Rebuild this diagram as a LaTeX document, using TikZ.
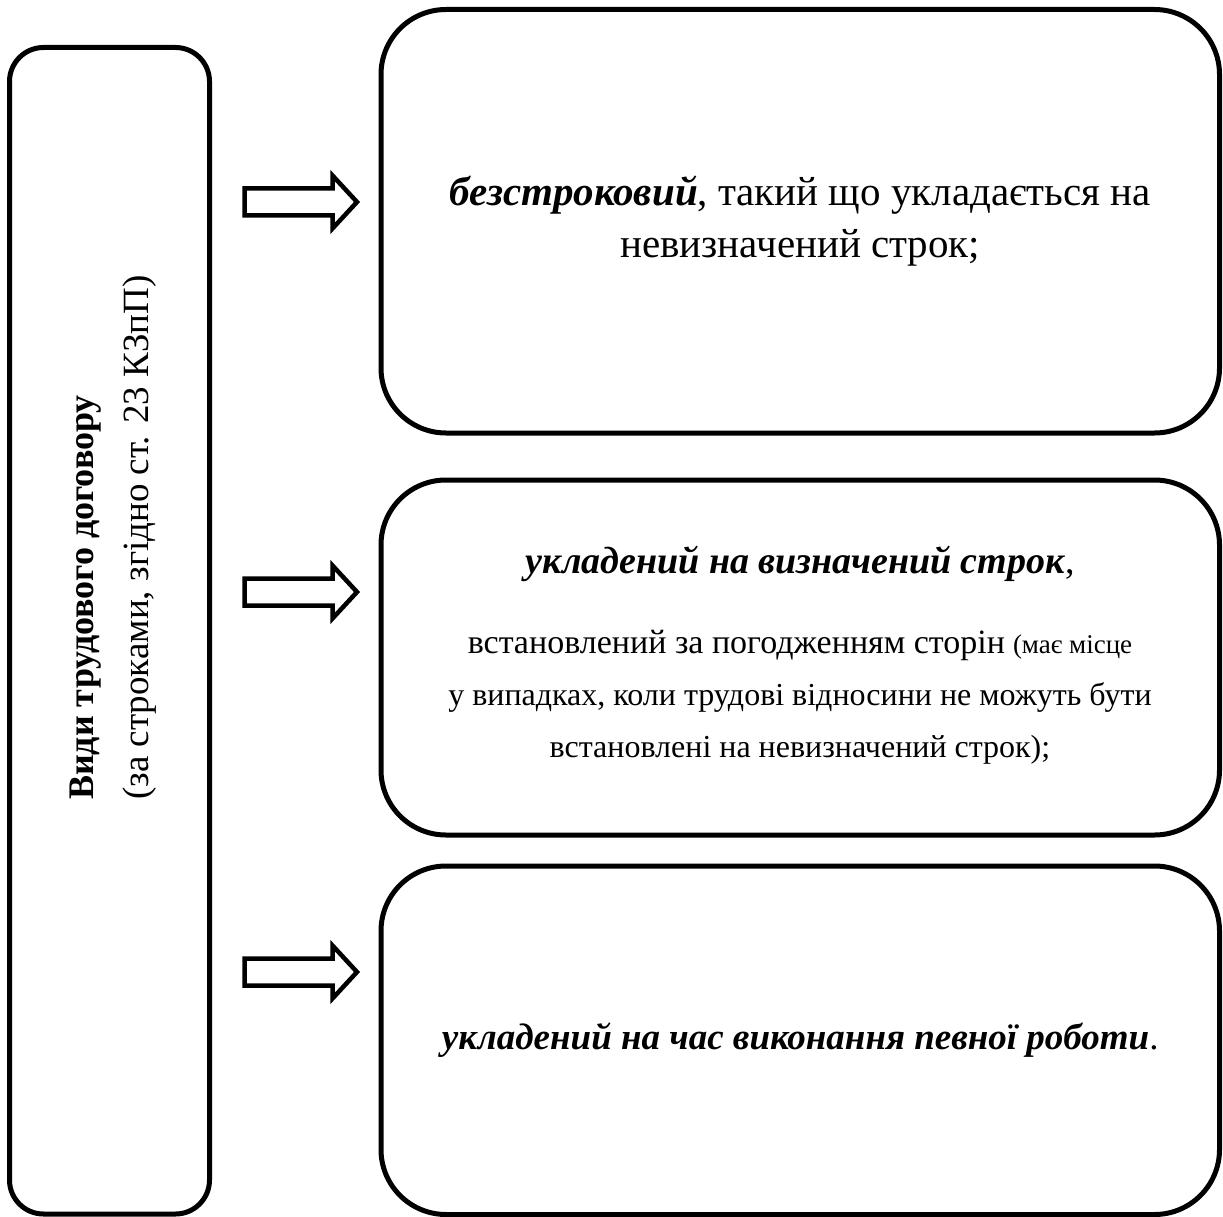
\documentclass[tikz,border=0pt]{standalone}
\usepackage{fontspec}
\setmainfont{Liberation Serif}
\begin{document}
\begin{tikzpicture}[x=1pt,y=-1pt,
  box/.style={draw, line width=5pt, rounded corners=#1, inner sep=0pt},
  box/.default=65pt,
  fatarrow/.style={draw, line width=4.5pt, miter limit=10, line join=miter},
  bigtxt/.style={font=\fontsize{41}{52}\selectfont, align=center},
  midtxt/.style={font=\fontsize{32}{52}\selectfont, align=center},
  sidetxt/.style={font=\fontsize{37}{55}\selectfont, align=left, rotate=90, inner sep=0pt}]
\useasboundingbox (0,0) rectangle (1223,1217);
% left box
\node[box=34pt, minimum width=200pt, minimum height=1166.5pt] (left) at (109.5,630.75) {};
\node[sidetxt, anchor=west] (lefttxt) at (113,800) {{\fontsize{36}{55}\selectfont\textbf{Види трудового договору}}\\(за строками, згідно ст. 23 КЗпП)};
% right boxes
\node[box, minimum width=838.5pt, minimum height=423.5pt] (b1) at (800.25,221.25) {};
\node[box, minimum width=838.5pt, minimum height=355pt] (b2) at (800.25,657.5) {};
\node[box, minimum width=838.5pt, minimum height=348.5pt] (b3) at (800.25,1040.25) {};
\node[bigtxt] (t1) at (b1.center) {\textbf{\textit{безстроковий}}, такий що укладається на\\невизначений строк;};
\node[midtxt] (t2) at (800,655) {{\fontsize{38}{52}\selectfont\textbf{\textit{укладений на визначений строк}},}\\[28pt]
{\fontsize{34}{52}\selectfont встановлений за погодженням сторін} {\fontsize{27}{52}\selectfont(має місце}\\
у випадках, коли трудові відносини не можуть бути\\
встановлені на невизначений строк);};
\node[font=\fontsize{37}{52}\selectfont] (t3) at (b3.center) {\textbf{\textit{укладений на час виконання певної роботи}}.};
% arrows
\foreach \yc/\nm in {202/a1,592/a2,972/a3}{
  \draw[fatarrow] (244.5,\yc-13.5) -- (332.5,\yc-13.5) -- (332.5,\yc-26.5)
     -- (357,\yc) -- (332.5,\yc+26.5) -- (332.5,\yc+13.5) -- (244.5,\yc+13.5) -- cycle;
}
\end{tikzpicture}
\end{document}
